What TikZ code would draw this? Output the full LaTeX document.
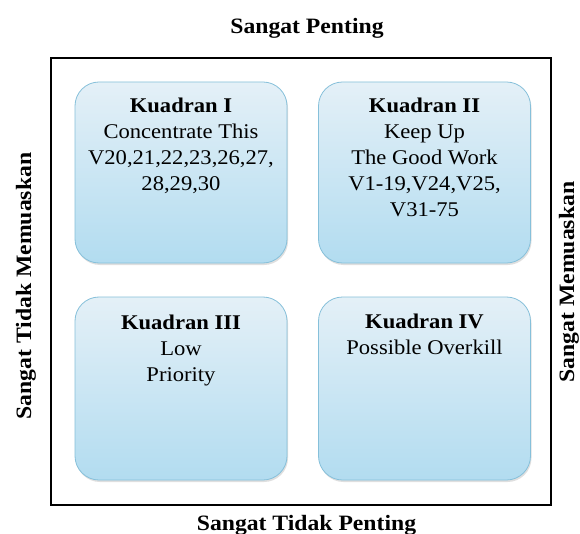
\documentclass[tikz,border=0pt]{standalone}
\usepackage{fontspec}
\setmainfont[FakeStretch=1.08]{Liberation Serif}
\usetikzlibrary{shadows}
\definecolor{boxtop}{HTML}{E4F0F7}
\definecolor{boxbot}{HTML}{B2DCF0}
\definecolor{boxline}{HTML}{86C0DA}
\tikzset{
  quad/.style={rounded corners=24bp, draw=boxline, line width=0.8bp, top color=boxtop, bottom color=boxbot,
    drop shadow={shadow xshift=1bp, shadow yshift=-2bp, opacity=0.25}},
  qtext/.style={anchor=north, align=center, inner sep=0pt, font=\fontsize{21}{26}\selectfont},
  axlabel/.style={font=\fontsize{22}{26}\selectfont\bfseries, inner sep=0pt}
}
\begin{document}
\begin{tikzpicture}[x=1bp,y=-1bp]
\useasboundingbox (0,0) rectangle (580,534);
\fill[white] (0,0) rectangle (580,534);
\draw[line width=2.8bp] (51,58) rectangle (551,505);
\node[quad, minimum width=212bp, minimum height=181bp] (q1) at (181,172.5) {};
\node[quad, minimum width=212bp, minimum height=181bp] (q2) at (424.5,172.5) {};
\node[quad, minimum width=212bp, minimum height=183bp] (q3) at (181,388.5) {};
\node[quad, minimum width=212bp, minimum height=183bp] (q4) at (424.5,388.5) {};
\node[qtext] (t1) at ([yshift=-16.5bp]q1.north) {\textbf{Kuadran I}\\Concentrate This\\V20,21,22,23,26,27,\\28,29,30};
\node[qtext] (t2) at ([yshift=-16.5bp]q2.north) {\textbf{Kuadran II}\\Keep Up\\The Good Work\\V1-19,V24,V25,\\V31-75};
\node[qtext] (t3) at ([yshift=-18bp]q3.north) {\textbf{Kuadran III}\\Low\\Priority};
\node[qtext] (t4) at ([yshift=-17bp]q4.north) {\textbf{Kuadran IV}\\Possible Overkill};
\node[axlabel, anchor=base] (top) at (307,34) {Sangat Penting};
\node[axlabel, anchor=base] (bot) at (306.5,530) {Sangat Tidak Penting};
\node[axlabel, rotate=90] (left) at (26,286) {Sangat Tidak Memuaskan};
\node[axlabel, rotate=90] (right) at (569,282) {Sangat Memuaskan};
\end{tikzpicture}
\end{document}
